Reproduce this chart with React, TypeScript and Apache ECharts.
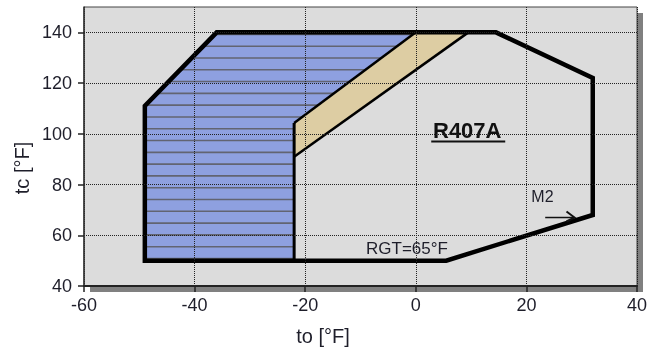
import React, { useEffect, useRef } from 'react';
import * as echarts from 'echarts';

// Operating envelope outline (to, tc) in °F
const envelopeX = [-49, -49, -36, 14.5, 32, 32, 5.5, -49];
const envelopeY = [50, 111, 140, 140, 122, 68, 50, 50];
// Blue (hatched) region
const blueX = [-49, -49, -36, 0, -22, -22];
const blueY = [50, 111, 140, 140, 104.3, 50];
// Tan band
const tanX = [-22, 0, 9.5, -22];
const tanY = [104.3, 140, 140, 91];
// Divider & band edges
const dividerX = [-22, -22];
const dividerY = [50, 104.3];
const bandUpperX = [-22, 0];
const bandUpperY = [104.3, 140];
const bandLowerX = [-22, 9.5];
const bandLowerY = [91, 140];
// M2 arrow
const arrowX = [23.4, 28.7];
const arrowY = [67, 67];
// Annotations
const noteTexts = ['R407A', 'RGT=65°F', 'M2'];
const noteX = [9.3, -1.6, 22.9];
const noteY = [101.3, 54.6, 75.4];
// Ticks
const yTicks = [40, 60, 80, 100, 120, 140];

const FONT = '"Liberation Sans", Arial, sans-serif';
const TXT = '#1e1e2a';

function scanSegments(pts: number[][], py: number): number[][] {
  const xs: number[] = [];
  for (let i = 0; i < pts.length; i++) {
    const a = pts[i];
    const b = pts[(i + 1) % pts.length];
    if ((a[1] <= py && b[1] > py) || (b[1] <= py && a[1] > py)) {
      xs.push(a[0] + ((py - a[1]) / (b[1] - a[1])) * (b[0] - a[0]));
    }
  }
  xs.sort((p, q) => p - q);
  const segs: number[][] = [];
  for (let i = 0; i + 1 < xs.length; i += 2) segs.push([xs[i], xs[i + 1]]);
  return segs;
}

export default function App() {
  const ref = useRef<HTMLDivElement>(null);
  useEffect(() => {
    if (!ref.current) return;
    const chart = echarts.init(ref.current, null, { renderer: 'svg' });
    const pairs = (xs: number[], ys: number[]) => xs.map((x, i) => [x, ys[i]]);

    const option: any = {
      animation: false,
      grid: {
        left: 84,
        right: 18,
        top: 7,
        bottom: 63,
        show: true,
        backgroundColor: '#dcdcdc',
        borderColor: '#444',
        borderWidth: 1,
      },
      xAxis: {
        type: 'value',
        min: -60,
        max: 40,
        interval: 20,
        z: 10,
        axisLine: { show: true, onZero: false, lineStyle: { color: '#222', width: 2 } },
        axisTick: { show: true, length: 6, lineStyle: { color: '#222', width: 1.5 } },
        axisLabel: { fontSize: 18, color: TXT, margin: 10, fontFamily: FONT },
        splitLine: { show: true, lineStyle: { color: '#222', type: [1, 1], width: 1 } },
      },
      yAxis: {
        type: 'value',
        min: 40,
        max: 150,
        interval: 20,
        z: 10,
        axisLine: { show: true, onZero: false, lineStyle: { color: '#333', width: 1.5 } },
        axisTick: { show: true, length: 6, customValues: yTicks, lineStyle: { color: '#222', width: 1.5 } },
        axisLabel: { fontSize: 18, color: TXT, margin: 12, fontFamily: FONT, customValues: yTicks },
        splitLine: { show: true, lineStyle: { color: '#222', type: [1, 1], width: 1 } },
      },
      graphic: [
        { type: 'rect', z: -1, shape: { x: 637, y: 13, width: 6, height: 279 }, style: { fill: '#808080' } },
        { type: 'rect', z: -1, shape: { x: 90, y: 287, width: 553, height: 5 }, style: { fill: '#808080' } },
        {
          type: 'text',
          x: 323,
          y: 336,
          style: { text: 'to [°F]', font: `20px ${FONT}`, fill: TXT, textAlign: 'center', textVerticalAlign: 'middle', verticalAlign: 'middle' },
        },
        {
          type: 'text',
          x: 22,
          y: 168,
          rotation: Math.PI / 2,
          style: { text: 'tc [°F]', font: `20px ${FONT}`, fill: TXT, textAlign: 'center', textVerticalAlign: 'middle', verticalAlign: 'middle' },
        },
      ],
      series: [
        {
          type: 'custom',
          name: 'blue',
          z: 2,
          data: pairs(blueX, blueY),
          renderItem: (params: any, api: any) => {
            if (params.dataIndex !== 0) return null;
            const pts = blueX.map((x, i) => api.coord([x, blueY[i]]));
            const y0 = api.coord([0, 55.5])[1];
            const step = api.size([0, 4.65])[1];
            const ys = pts.map((p: number[]) => p[1]);
            const minY = Math.min(...ys);
            const maxY = Math.max(...ys);
            const children: any[] = [
              { type: 'polygon', shape: { points: pts }, style: { fill: '#8ea0e0', stroke: 'none' } },
            ];
            const addStripe = (py: number) => {
              scanSegments(pts, py).forEach((s) => {
                children.push({
                  type: 'line',
                  shape: { x1: s[0], y1: py, x2: s[1], y2: py },
                  style: { stroke: '#626472', lineWidth: 1.6 },
                });
              });
            };
            for (let py = y0; py > minY + 1; py -= step) addStripe(py);
            for (let py = y0 + step; py < maxY - 1; py += step) addStripe(py);
            return { type: 'group', children };
          },
        },
        {
          type: 'custom',
          name: 'tan',
          z: 2,
          data: pairs(tanX, tanY),
          renderItem: (params: any, api: any) => {
            if (params.dataIndex !== 0) return null;
            const pts = tanX.map((x, i) => api.coord([x, tanY[i]]));
            return { type: 'polygon', shape: { points: pts }, style: { fill: '#ddcda3', stroke: 'none' } };
          },
        },
        {
          type: 'line',
          z: 3,
          data: pairs(bandUpperX, bandUpperY),
          symbol: 'none',
          lineStyle: { color: '#000', width: 2.5 },
        },
        {
          type: 'line',
          z: 3,
          data: pairs(bandLowerX, bandLowerY),
          symbol: 'none',
          lineStyle: { color: '#000', width: 2.5 },
        },
        {
          type: 'line',
          z: 3,
          data: pairs(dividerX, dividerY),
          symbol: 'none',
          lineStyle: { color: '#000', width: 3 },
        },
        {
          type: 'line',
          z: 4,
          data: pairs(envelopeX, envelopeY),
          symbol: 'none',
          lineStyle: { color: '#000', width: 4.5, join: 'miter', cap: 'square' },
        },
        {
          type: 'custom',
          name: 'arrow',
          z: 5,
          data: [[arrowX[0], arrowY[0], arrowX[1], arrowY[1]]],
          renderItem: (params: any, api: any) => {
            const p1 = api.coord([api.value(0), api.value(1)]);
            const p2 = api.coord([api.value(2), api.value(3)]);
            return {
              type: 'group',
              children: [
                { type: 'line', shape: { x1: p1[0], y1: p1[1], x2: p2[0], y2: p2[1] }, style: { stroke: '#111', lineWidth: 1.5 } },
                {
                  type: 'polyline',
                  shape: { points: [[p2[0] - 8, p2[1] - 6], [p2[0], p2[1]], [p2[0] - 8, p2[1] + 4]] },
                  style: { stroke: '#111', lineWidth: 2, fill: 'none' },
                },
              ],
            };
          },
        },
        {
          type: 'custom',
          name: 'notes',
          z: 6,
          data: noteTexts.map((t, i) => [noteX[i], noteY[i], i]),
          renderItem: (params: any, api: any) => {
            const i = api.value(2);
            const p = api.coord([api.value(0), api.value(1)]);
            const bold = i === 0;
            const size = i === 0 ? 22 : i === 1 ? 17 : 16;
            const children: any[] = [
              {
                type: 'text',
                x: p[0],
                y: p[1],
                style: {
                  text: noteTexts[i],
                  fill: bold ? '#111' : TXT,
                  fontSize: size,
                  fontWeight: bold ? 'bold' : 'normal',
                  fontFamily: FONT,
                  textAlign: 'center',
                  textVerticalAlign: 'middle',
                  verticalAlign: 'middle',
                },
              },
            ];
            if (bold) {
              children.push({
                type: 'line',
                shape: { x1: p[0] - 36, y1: p[1] + 11, x2: p[0] + 38, y2: p[1] + 11 },
                style: { stroke: '#111', lineWidth: 2.2 },
              });
            }
            return { type: 'group', children };
          },
        },
      ],
    };
    chart.setOption(option);
    return () => chart.dispose();
  }, []);
  return <div ref={ref} style={{ position: 'fixed', left: 0, top: 0, width: 655, height: 349 }} />;
}
